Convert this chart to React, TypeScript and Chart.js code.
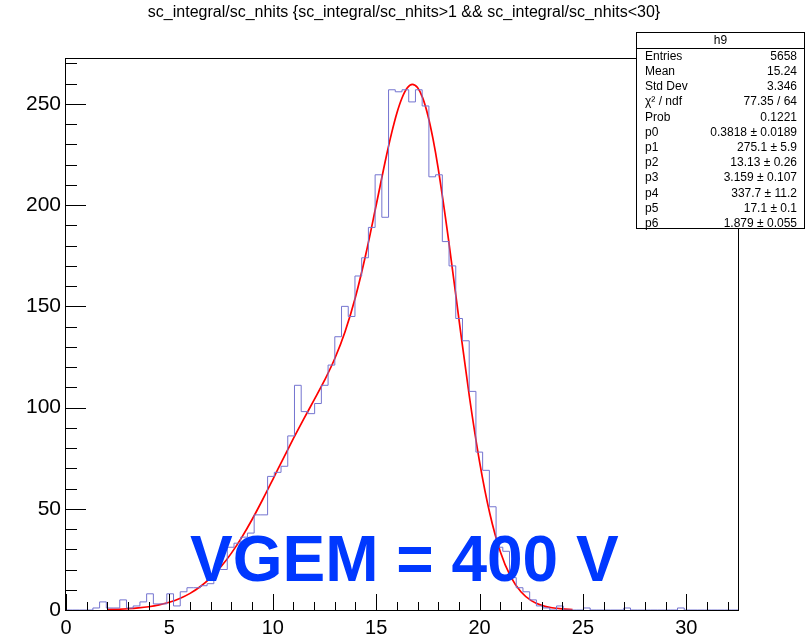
import React, { useEffect, useRef } from 'react';
import { Chart, registerables } from 'chart.js';

Chart.register(...registerables);

// ---------------- data ----------------
const TITLE = 'sc_integral/sc_nhits {sc_integral/sc_nhits>1 && sc_integral/sc_nhits<30}';
const X_MIN = 0;
const X_MAX = 32.5;
const Y_MAX = 272.2;
const N_BINS = 100;

// histogram bin contents (100 bins from 0 to 32.5)
const binCounts = [
  0, 0, 0, 0, 1, 4, 1, 1, 5, 1,
  2, 4, 8, 3, 3, 8, 2, 9, 11, 11,
  12, 13, 20, 20, 31, 33, 36, 38, 47, 47,
  66, 68, 71, 86, 111, 98, 97, 102, 111, 121,
  135, 150, 145, 165, 174, 189, 215, 194, 257, 256,
  257, 251, 257, 249, 214, 215, 182, 170, 144, 133,
  108, 78, 69, 51, 31, 29, 16, 11, 9, 5,
  2, 1, 0, 2, 0, 0, 0, 1, 0, 0,
  0, 0, 0, 1, 0, 0, 0, 0, 0, 0,
  0, 1, 0, 0, 0, 0, 0, 0, 0, 0,
];

// fitted curve, sampled
const fitX = [
  2, 2.5, 3, 3.5, 4, 4.5, 5, 5.5, 6, 6.5, 7, 7.5, 8, 8.5, 9, 9.5, 10, 10.5, 11, 11.5,
  12, 12.5, 13, 13.5, 14, 14.5, 15, 15.5, 15.75, 16, 16.25, 16.5, 16.75, 17, 17.25, 17.5,
  17.75, 18, 18.5, 19, 19.5, 20, 20.5, 21, 21.5, 22, 22.5, 23, 23.5, 24, 24.5,
];
const fitY = [
  0.21, 0.37, 0.62, 1.01, 1.61, 2.52, 3.83, 5.68, 8.22, 11.61, 15.98, 21.46, 28.1, 35.89, 44.71, 54.34, 64.46, 74.71, 84.75, 94.4,
  103.77, 113.39, 124.25, 137.62, 154.65, 175.76, 199.95, 224.55, 235.7, 245.41, 252.94, 257.85, 259.65, 258.07, 252.98, 244.43,
  232.7, 218.14, 182.94, 143.89, 106.09, 73.32, 47.52, 28.94, 16.59, 9.01, 4.65, 2.31, 1.11, 0.53, 0.25,
];

const X_MAJOR = 5;
const X_MINOR = 1;
const Y_MAJOR = 50;
const Y_MINOR = 10;

const STATS_TITLE = 'h9';
const statsLabels = ['Entries', 'Mean', 'Std Dev', 'χ² / ndf', 'Prob', 'p0', 'p1', 'p2', 'p3', 'p4', 'p5', 'p6'];
const statsValues = [
  '5658', '15.24', '3.346', '77.35 / 64', '0.1221',
  '0.3818 ± 0.0189', '275.1 ± 5.9', '13.13 ± 0.26', '3.159 ± 0.107',
  '337.7 ± 11.2', '17.1 ± 0.1', '1.879 ± 0.055',
];

const ANNOTATION = 'VGEM = 400 V';

// ---------------- styles ----------------
const FONT = '"Liberation Sans", Arial, Helvetica, sans-serif';
const HIST_COLOR = '#7474d0';
const FIT_COLOR = '#ff0000';
const ANNOT_COLOR = '#0038ff';

const rootDecor = {
  id: 'rootDecor',
  beforeDraw(chart: any) {
    const ctx = chart.ctx;
    ctx.save();
    ctx.fillStyle = '#ffffff';
    ctx.fillRect(0, 0, chart.width, chart.height);
    ctx.restore();
  },
  afterDatasetsDraw(chart: any) {
    const ctx = chart.ctx;
    const { left, right, top, bottom } = chart.chartArea;
    const xs = chart.scales.x;
    const ys = chart.scales.y;
    ctx.save();
    ctx.strokeStyle = '#000';
    ctx.lineWidth = 1;
    // frame
    ctx.strokeRect(Math.round(left) - 0.5, Math.round(top) - 0.5, Math.round(right - left) + 1, Math.round(bottom - top) + 1);
    // x ticks (inside)
    ctx.beginPath();
    for (let v = X_MIN; v <= X_MAX + 1e-9; v += X_MINOR) {
      const px = Math.round(xs.getPixelForValue(v)) + 0.5;
      const len = Math.abs(v % X_MAJOR) < 1e-9 ? 16 : 8;
      ctx.moveTo(px, bottom);
      ctx.lineTo(px, bottom - len);
    }
    // y ticks (inside)
    for (let v = 0; v <= Y_MAX + 1e-9; v += Y_MINOR) {
      const py = Math.round(ys.getPixelForValue(v)) + 0.5;
      const len = v % Y_MAJOR === 0 ? 20 : 11;
      ctx.moveTo(left, py);
      ctx.lineTo(left + len, py);
    }
    ctx.stroke();
    ctx.restore();
  },
  afterDraw(chart: any) {
    const ctx = chart.ctx;
    ctx.save();
    // title
    ctx.fillStyle = '#000';
    ctx.font = `16px ${FONT}`;
    ctx.textAlign = 'center';
    ctx.textBaseline = 'middle';
    ctx.fillText(TITLE, 404, 13);

    // annotation
    ctx.fillStyle = ANNOT_COLOR;
    ctx.font = `bold 64px ${FONT}`;
    ctx.textAlign = 'left';
    ctx.textBaseline = 'alphabetic';
    ctx.fillText(ANNOTATION, 190, 581);

    // stats box
    const bx = 636.5, by = 32.5, bw = 168, bh = 196;
    ctx.fillStyle = '#fff';
    ctx.fillRect(bx, by, bw, bh);
    ctx.strokeStyle = '#000';
    ctx.lineWidth = 1;
    ctx.strokeRect(bx, by, bw, bh);
    ctx.beginPath();
    ctx.moveTo(bx, 48.5);
    ctx.lineTo(bx + bw, 48.5);
    ctx.stroke();
    ctx.fillStyle = '#000';
    ctx.font = `12px ${FONT}`;
    ctx.textBaseline = 'middle';
    ctx.textAlign = 'center';
    ctx.fillText(STATS_TITLE, bx + bw / 2, 41);
    statsLabels.forEach((lab, i) => {
      const cy = 56.5 + i * 15.2;
      ctx.textAlign = 'left';
      ctx.fillText(lab, 645, cy);
      ctx.textAlign = 'right';
      ctx.fillText(statsValues[i], 797, cy);
    });
    ctx.restore();
  },
};

export default function App() {
  const canvasRef = useRef<HTMLCanvasElement | null>(null);

  useEffect(() => {
    const canvas = canvasRef.current;
    if (!canvas) return;
    const binWidth = (X_MAX - X_MIN) / N_BINS;
    const histPoints = binCounts.map((c, i) => ({ x: X_MIN + i * binWidth, y: c }));
    histPoints.push({ x: X_MAX, y: binCounts[binCounts.length - 1] });
    const fitPoints = fitX.map((x, i) => ({ x, y: fitY[i] }));

    const chart = new Chart(canvas, {
      type: 'line',
      data: {
        datasets: [
          {
            label: 'h9',
            data: histPoints,
            stepped: 'before',
            borderColor: HIST_COLOR,
            borderWidth: 1,
            pointRadius: 0,
            fill: false,
          },
          {
            label: 'fit',
            data: fitPoints,
            borderColor: FIT_COLOR,
            borderWidth: 1.7,
            pointRadius: 0,
            fill: false,
            cubicInterpolationMode: 'monotone',
          },
        ],
      },
      options: {
        animation: false,
        responsive: false,
        devicePixelRatio: 1,
        parsing: false,
        layout: { padding: { top: 59, right: 69, left: 0, bottom: 0 } },
        plugins: {
          legend: { display: false },
          tooltip: { enabled: false },
          title: { display: false },
        },
        scales: {
          x: {
            type: 'linear',
            min: X_MIN,
            max: X_MAX,
            grid: { display: false, drawTicks: false },
            border: { display: false },
            ticks: {
              stepSize: X_MAJOR,
              includeBounds: false,
              autoSkip: false,
              maxRotation: 0,
              color: '#000',
              padding: 6,
              font: { family: FONT, size: 20 },
            },
            afterFit(s: any) {
              s.height = 31;
            },
          },
          y: {
            type: 'linear',
            min: 0,
            max: Y_MAX,
            grid: { display: false, drawTicks: false },
            border: { display: false },
            ticks: {
              stepSize: Y_MAJOR,
              includeBounds: false,
              color: '#000',
              padding: 5,
              font: { family: FONT, size: 21 },
            },
            afterFit(s: any) {
              s.width = 66;
            },
          },
        },
      } as any,
      plugins: [rootDecor],
    });
    return () => chart.destroy();
  }, []);

  return (
    <div style={{ position: 'fixed', left: 0, top: 0, width: 807, height: 641, background: '#fff' }}>
      <canvas ref={canvasRef} width={807} height={641} style={{ display: 'block', width: 807, height: 641 }} />
    </div>
  );
}
